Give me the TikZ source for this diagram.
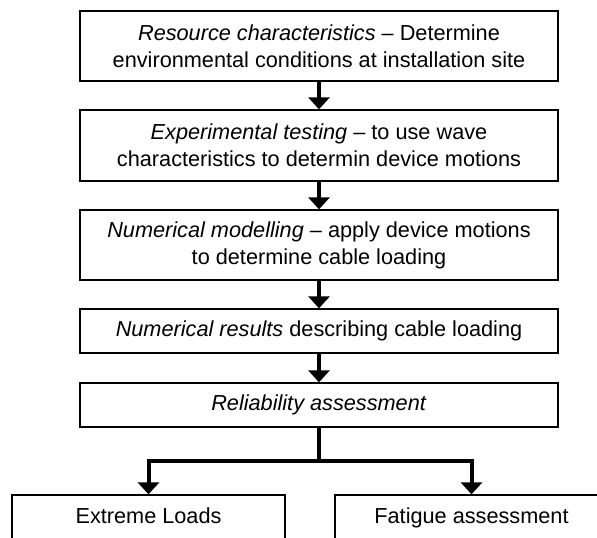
\documentclass[tikz,border=0pt]{standalone}
\usepackage{fontspec}
\setmainfont{Liberation Sans}
\usetikzlibrary{arrows.meta}
\begin{document}
\begin{tikzpicture}[x=1pt,y=-1pt,
  stagebox/.style={draw=black, line width=1.3pt, fill=white, inner sep=0pt,
    align=center, minimum width=478pt, font=\fontsize{21.7}{27}\selectfont},
  onerow/.style={text height=15.5pt, text depth=4.5pt},
  leafbox/.style={stagebox, onerow, minimum width=273pt, minimum height=45pt},
  flow/.style={line width=4pt, -{Triangle[width=21pt,length=12pt]}},
  trunk/.style={line width=4pt, line join=miter}]
  % white sheet, trimmed to the page
  \clip (0,0) rectangle (597,538);
  \fill[white] (0,0) rectangle (597,538);

  % process stages
  \node[stagebox, minimum height=70pt] (res) at (319,46)
    {\textit{Resource characteristics} -- Determine\\environmental conditions at installation site};
  \node[stagebox, minimum height=71pt] (exp) at (319,145.5)
    {\textit{Experimental testing} -- to use wave\\characteristics to determin device motions};
  \node[stagebox, minimum height=70pt] (num) at (319,245)
    {\textit{Numerical modelling} -- apply device motions\\to determine cable loading};
  \node[stagebox, onerow, minimum height=44pt] (out) at (319,331)
    {\textit{Numerical results} describing cable loading};
  \node[stagebox, onerow, minimum height=44pt] (rel) at (319,405)
    {\textit{Reliability assessment}};

  % outcomes
  \node[leafbox] (ext) at (148.5,517.5) {Extreme Loads};
  \node[leafbox] (fat) at (471.5,517.5) {Fatigue assessment};

  % connectors
  \draw[flow] (res.south) -- (exp.north);
  \draw[flow] (exp.south) -- (num.north);
  \draw[flow] (num.south) -- (out.north);
  \draw[flow] (out.south) -- (rel.north);

  \coordinate (split) at (319,461);
  \draw[trunk] (rel.south) -- (split);
  \draw[flow, line join=miter] (split) -| (ext.north);
  \draw[flow, line join=miter] (split) -| (fat.north);
\end{tikzpicture}
\end{document}
